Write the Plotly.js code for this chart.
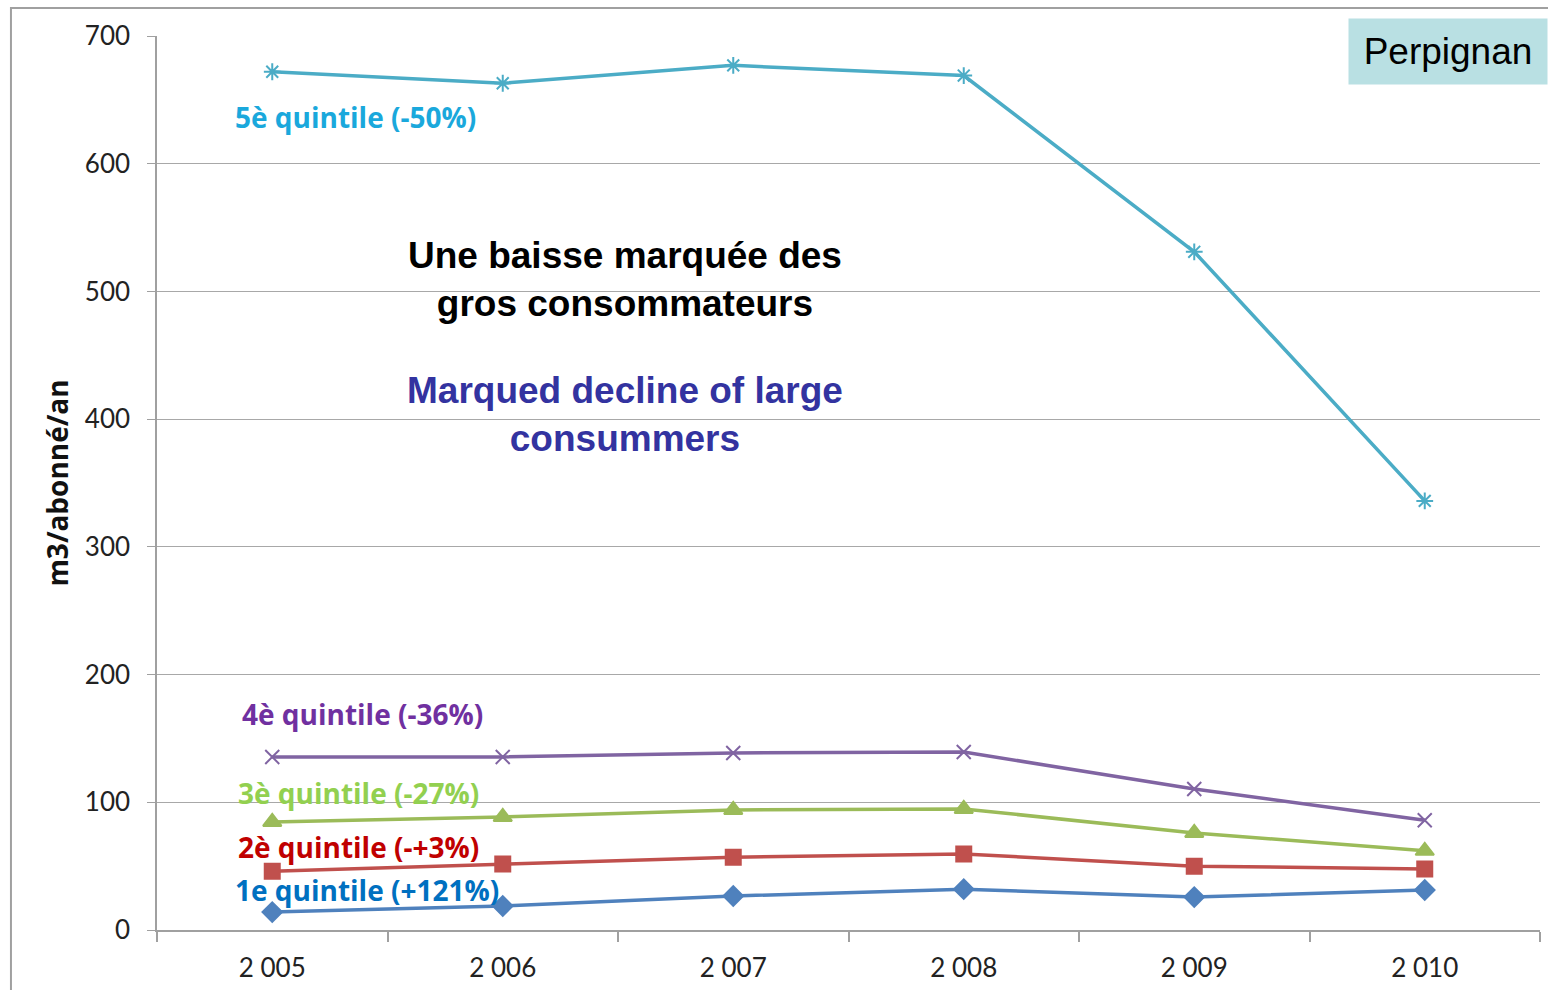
<!DOCTYPE html>
<html><head><meta charset="utf-8">
<script src="https://cdn.plot.ly/plotly-3.0.1.min.js"></script>
<style>body{margin:0;background:#fff}#c{width:1548px;height:990px}</style>
</head><body><div id="c"></div>
<script>
var years = ["2 005","2 006","2 007","2 008","2 009","2 010"];
var q5 = [672, 663, 677, 669, 531, 336];
var q4 = [135.5, 135.5, 138.6, 139.4, 110.4, 86];
var q3 = [84.6, 88.5, 94, 94.8, 76, 62];
var q2 = [46, 51.7, 57, 59.5, 50, 47.8];
var q1 = [14, 18.8, 26.6, 32, 25.8, 31.3];
var seriesNames = ["5è quintile (-50%)","4è quintile (-36%)","3è quintile (-27%)","2è quintile (-+3%)","1e quintile (+121%)"];
var yTicks = [0,100,200,300,400,500,600,700];

function tr(y, color, symbol, size, name){
  return {x: years, y: y, type:'scatter', mode:'lines+markers', name:name,
    line:{color:color, width:3.5},
    marker:{symbol:symbol, size:size, color:color, line:{color:color, width:2}}};
}
var data = [
  tr(q5,'#4bacc6','asterisk-open',14,seriesNames[0]),
  tr(q4,'#8064a2','x-thin-open',14,seriesNames[1]),
  tr(q3,'#9bbb59','triangle-up',16,seriesNames[2]),
  tr(q2,'#c0504d','square',15,seriesNames[3]),
  tr(q1,'#4f81bd','diamond',15,seriesNames[4])
];
var LBL = '"Open Sans", Lato, sans-serif';
var lblFont = function(c){return {family:LBL, size:28, color:c, weight:'bold'};};
var layout = {
  width:1548, height:990, showlegend:false,
  paper_bgcolor:'#fff', plot_bgcolor:'#fff',
  margin:{l:157, r:8, t:36, b:60},
  xaxis:{type:'category', range:[-0.5,5.5], showgrid:false, showline:true, linecolor:'#a0a0a0', linewidth:1.5,
    ticks:'outside', tickson:'boundaries', ticklen:10, tickcolor:'#a0a0a0', tickwidth:1.5, ticklabelstandoff:14,
    tickfont:{family:'Lato, "Open Sans", sans-serif', size:26, color:'#222'}},
  yaxis:{range:[0,700], tickvals:yTicks, showgrid:true, gridcolor:'#a8a8a8', gridwidth:1.2,
    showline:true, linecolor:'#a0a0a0', linewidth:1.5, ticks:'outside', ticklen:8, tickcolor:'#a0a0a0',
    zeroline:false, tickfont:{family:'Lato, "Open Sans", sans-serif', size:26, color:'#222'}, ticklabelstandoff:12,
    title:{text:'m3/abonné/an', standoff:8, font:{family:LBL, size:28, color:'#111', weight:'bold'}}},
  shapes:[{type:'rect', xref:'paper', yref:'paper', x0:-0.1056, x1:1.2, y0:-0.2, y1:1.0313,
    line:{color:'#a0a0a0', width:2}, fillcolor:'rgba(0,0,0,0)', layer:'below'}],
  annotations:[
    {x:0.36, y:636.6, xref:'x', yref:'y', text:seriesNames[0], showarrow:false, font:lblFont('#1aa8dc')},
    {x:0.39, y:169, xref:'x', yref:'y', text:seriesNames[1], showarrow:false, font:lblFont('#7030a0')},
    {x:0.375, y:107, xref:'x', yref:'y', text:seriesNames[2], showarrow:false, font:lblFont('#92d050')},
    {x:0.375, y:65, xref:'x', yref:'y', text:seriesNames[3], showarrow:false, font:lblFont('#c00000')},
    {x:0.41, y:31.3, xref:'x', yref:'y', text:seriesNames[4], showarrow:false, font:lblFont('#0070c0')},
    {x:1.53, y:509, xref:'x', yref:'y', text:'Une baisse marquée des<br>gros consommateurs', showarrow:false,
      font:{family:'"Liberation Sans", Arial, sans-serif', size:37, color:'#000', weight:'bold'}},
    {x:1.53, y:404, xref:'x', yref:'y', text:'Marqued decline of large<br>consummers', showarrow:false,
      font:{family:'"Liberation Sans", Arial, sans-serif', size:37, color:'#3333a0', weight:'bold'}},
    {xref:'paper', yref:'paper', x:(1548-157)/1383, y:(930-18)/894, xanchor:'right', yanchor:'top',
      text:'Perpignan', showarrow:false, bgcolor:'#b9e0e3', borderpad:0, width:198, height:65, align:'center',
      font:{family:'"Liberation Sans", Arial, sans-serif', size:37, color:'#000'}}
  ]
};
Plotly.newPlot('c', data, layout, {displayModeBar:false});
</script></body></html>
